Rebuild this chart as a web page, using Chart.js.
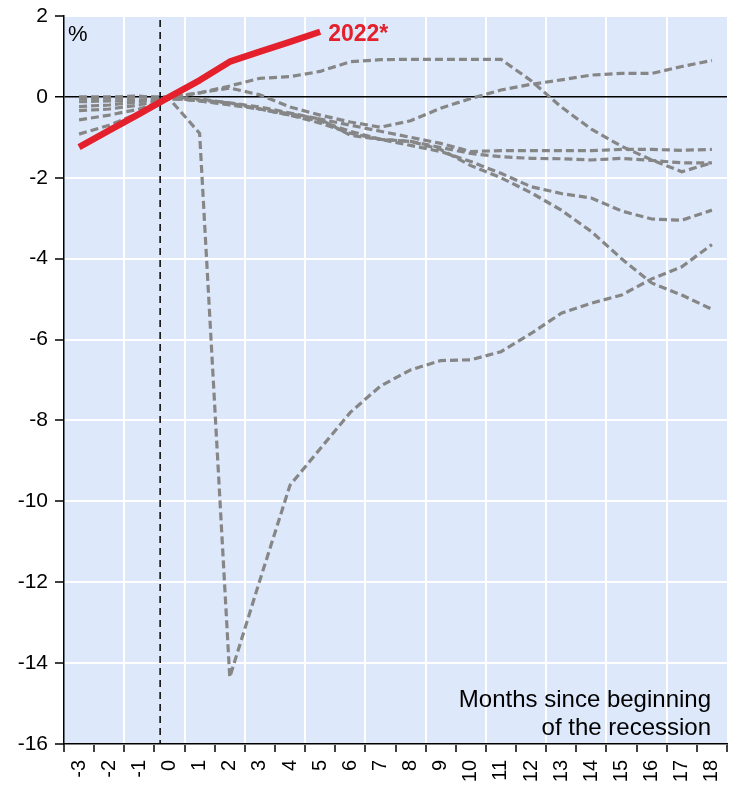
<!DOCTYPE html>
<html><head><meta charset="utf-8">
<script src="https://cdn.jsdelivr.net/npm/chart.js@4/dist/chart.umd.min.js"></script>
<style>html,body{margin:0;padding:0;background:#fff;}#wrap{width:735px;height:786px;}</style>
</head><body><div id="wrap"><canvas id="c" width="735" height="786"></canvas></div>
<script>
// ---- data ----
const months = [-3,-2,-1,0,1,2,3,4,5,6,7,8,9,10,11,12,13,14,15,16,17,18];
const yMin = -16, yMax = 2, yStep = 2;
const recessionStartMonth = -0.31; // dashed marker (months)
const series2022 = [-1.24,-0.83,-0.42,0.0,0.41,0.87,1.12,1.36,1.61];
const recA = [0,0,0.02,-0.05,-0.9,-14.35,-11.95,-9.6,-8.7,-7.8,-7.15,-6.75,-6.52,-6.5,-6.3,-5.85,-5.35,-5.1,-4.9,-4.5,-4.2,-3.65];
const recB = [-0.05,-0.03,0,0,0.1,0.27,0.46,0.5,0.63,0.87,0.92,0.93,0.93,0.93,0.93,0.4,-0.25,-0.8,-1.22,-1.56,-1.85,-1.63];
const recC = [-0.34,-0.3,-0.2,-0.02,0.1,0.22,0.05,-0.25,-0.45,-0.62,-0.75,-0.59,-0.28,-0.04,0.17,0.31,0.42,0.54,0.58,0.58,0.75,0.9];
const recD = [-0.12,-0.1,-0.08,-0.02,-0.1,-0.2,-0.3,-0.42,-0.55,-0.7,-0.85,-1.0,-1.15,-1.35,-1.33,-1.33,-1.33,-1.33,-1.3,-1.3,-1.32,-1.3];
const recE = [-0.24,-0.2,-0.12,-0.02,-0.1,-0.18,-0.3,-0.45,-0.6,-0.85,-1.05,-1.1,-1.25,-1.4,-1.48,-1.52,-1.53,-1.56,-1.52,-1.57,-1.63,-1.63];
const recF = [-0.57,-0.45,-0.3,-0.05,-0.08,-0.15,-0.3,-0.45,-0.65,-0.9,-1.05,-1.2,-1.35,-1.6,-1.89,-2.22,-2.39,-2.5,-2.82,-3.02,-3.05,-2.8];
const recG = [-0.92,-0.7,-0.4,0.0,-0.05,-0.15,-0.25,-0.4,-0.55,-0.95,-1.05,-1.1,-1.3,-1.7,-2.0,-2.37,-2.8,-3.33,-4.0,-4.6,-4.9,-5.25];
const pastRecessions = [recA, recB, recC, recD, recE, recF, recG];
const label2022 = '2022*';
const unitText = '%';
const noteLines = ['Months since beginning', 'of the recession'];

// ---- style ----
const FONT = '"Liberation Sans", Arial, sans-serif';
const RED = '#e3202b';
const GRAY = '#868686';
const BG = '#dde9fb';

const datasets = [{
  label: label2022, data: series2022, borderColor: RED, borderWidth: 6.5,
  pointRadius: 0, tension: 0, borderCapStyle: 'butt', borderJoinStyle: 'round'
}].concat(pastRecessions.map((d, i) => ({
  label: 'rec' + i, data: d, borderColor: GRAY, borderWidth: 3.2,
  borderDash: [8, 4], pointRadius: 0, tension: 0
})));

function zeroPad(s) { s.paddingLeft = 0; s.paddingRight = 0; s.paddingTop = 0; s.paddingBottom = 0; }

const overlay = {
  id: 'overlay',
  beforeDraw(chart) {
    const {ctx, chartArea: a} = chart;
    ctx.save(); ctx.fillStyle = BG;
    ctx.fillRect(a.left, a.top, a.right - a.left, a.bottom - a.top);
    ctx.restore();
  },
  beforeDatasetsDraw(chart) {
    const {ctx, chartArea: a, scales: {x}} = chart;
    const px = x.getPixelForValue(months.indexOf(0) + recessionStartMonth);
    ctx.save(); ctx.strokeStyle = '#000'; ctx.lineWidth = 1.5; ctx.setLineDash([7, 5]);
    ctx.beginPath(); ctx.moveTo(px, a.top + 4); ctx.lineTo(px, a.bottom); ctx.stroke();
    ctx.restore();
  },
  afterDatasetsDraw(chart) {
    const {ctx, chartArea: a} = chart;
    ctx.save();
    ctx.fillStyle = '#000'; ctx.font = '22px ' + FONT; ctx.textBaseline = 'alphabetic'; ctx.textAlign = 'left';
    ctx.fillText(unitText, a.left + 4, a.top + 25);
    const pts = chart.getDatasetMeta(0).data;
    const last = pts[series2022.length - 1];
    ctx.fillStyle = RED; ctx.font = 'bold 23px ' + FONT; ctx.textBaseline = 'middle';
    ctx.fillText(label2022, last.x + 8, last.y + 3);
    ctx.fillStyle = '#000'; ctx.font = '24px ' + FONT; ctx.textAlign = 'right'; ctx.textBaseline = 'alphabetic';
    ctx.fillText(noteLines[0], a.right - 16, a.bottom - 37);
    ctx.fillText(noteLines[1], a.right - 16, a.bottom - 9);
    ctx.restore();
  }
};

new Chart(document.getElementById('c'), {
  type: 'line',
  data: { labels: months.map(String), datasets },
  options: {
    responsive: false, animation: false,
    layout: { padding: { top: 16, right: 8, left: 0, bottom: 0 } },
    plugins: { legend: { display: false }, tooltip: { enabled: false }, title: { display: false } },
    scales: {
      x: {
        offset: true,
        afterFit(s) { s.height = 42; zeroPad(s); },
        grid: {
          offset: true, drawOnChartArea: true, lineWidth: 2,
          color: (c) => (c.index !== undefined && c.index >= 2 && c.index <= 20 && c.index % 2 === 0) ? '#ffffff' : 'rgba(0,0,0,0)',
          tickColor: '#000', tickLength: 8, tickWidth: 1.5
        },
        border: { color: '#000', width: 1.5 },
        ticks: { autoSkip: false, minRotation: 90, maxRotation: 90, padding: 8, color: '#000', font: { family: FONT, size: 20 } }
      },
      y: {
        min: yMin, max: yMax,
        afterFit(s) { s.width = 64; zeroPad(s); },
        grid: {
          lineWidth: (c) => c.tick && c.tick.value === 0 ? 1.5 : 2,
          color: (c) => c.tick && c.tick.value === 0 ? '#000' : '#ffffff',
          tickColor: '#000', tickLength: 9, tickWidth: 1.5
        },
        border: { color: '#000', width: 1.5 },
        ticks: { stepSize: yStep, padding: 7, color: '#000', font: { family: FONT, size: 21 } }
      }
    }
  },
  plugins: [overlay]
});
</script></body></html>
